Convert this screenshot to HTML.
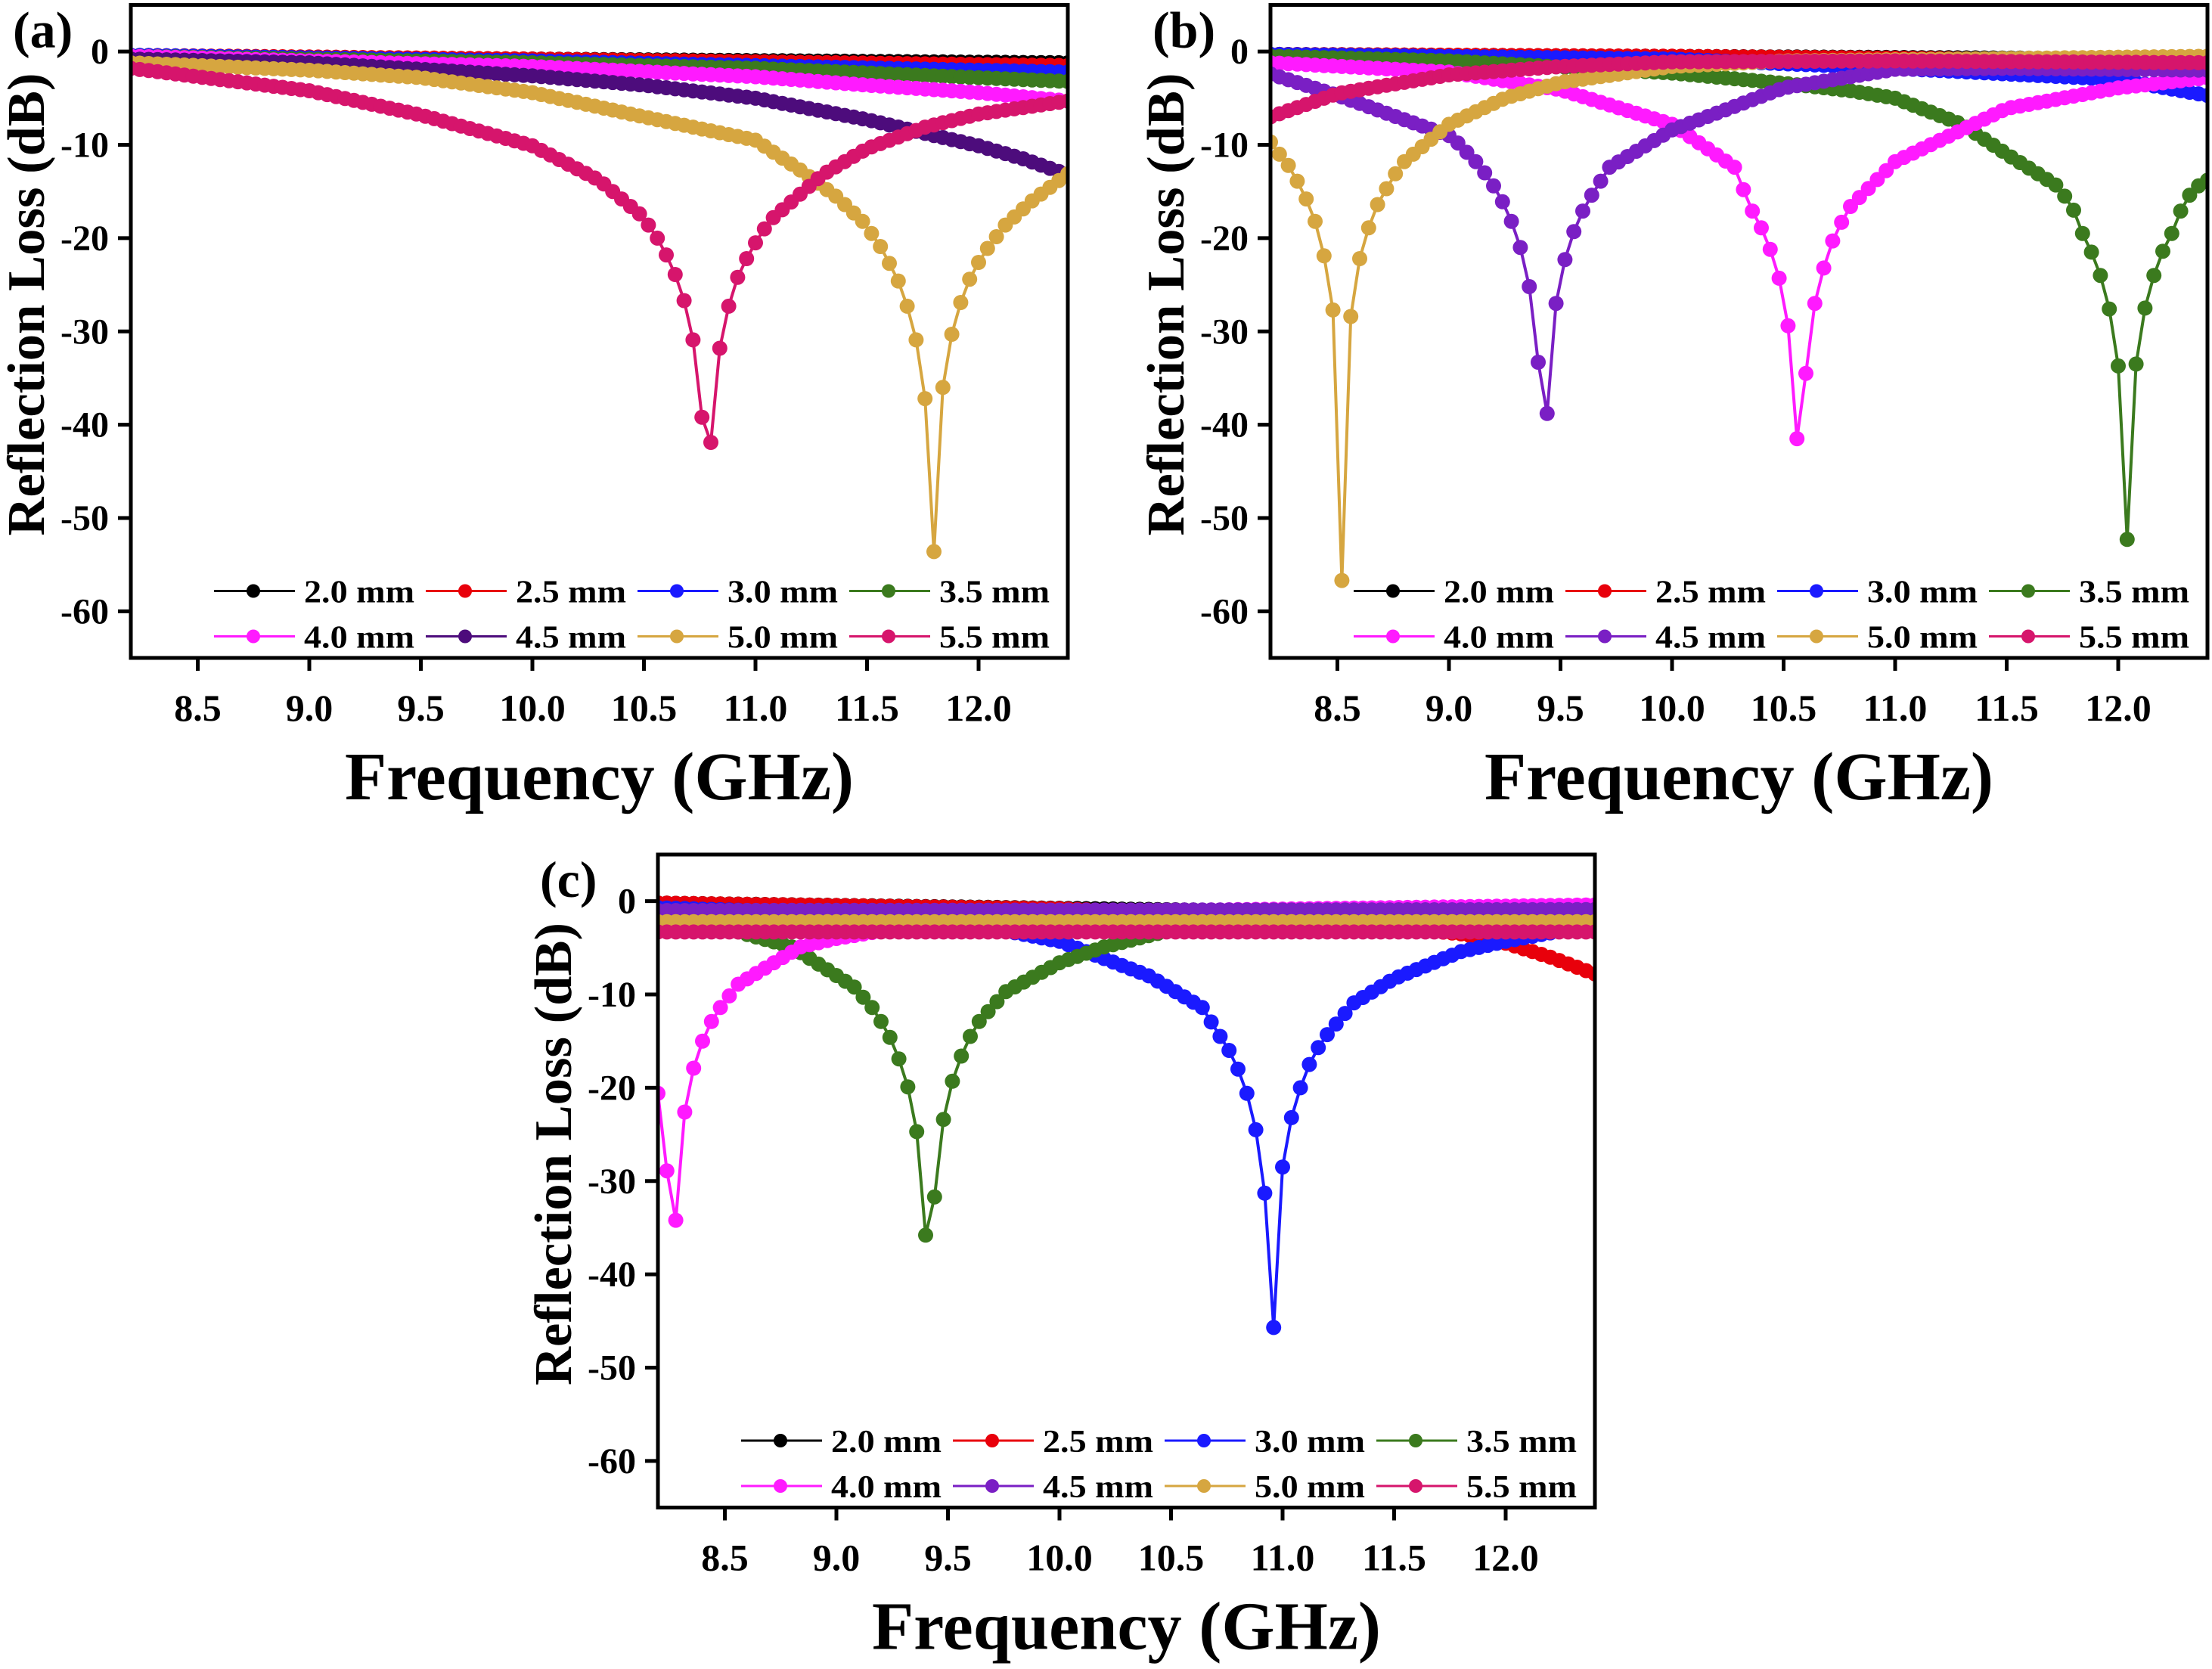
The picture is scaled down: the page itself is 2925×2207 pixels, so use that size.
<!DOCTYPE html>
<html><head><meta charset="utf-8">
<style>
html,body{margin:0;padding:0;background:#fff;}
svg{display:block;}
text{font-family:"Liberation Serif","Times New Roman",serif;font-weight:bold;fill:#000;}
</style></head>
<body>
<svg id="fig" width="2925" height="2207" viewBox="0 0 2925 2207" xmlns="http://www.w3.org/2000/svg">
<rect x="0" y="0" width="2925" height="2207" fill="#fff"/>
</svg>
<script>
// ---- shared chart data ----
const xTicks = [8.5, 9.0, 9.5, 10.0, 10.5, 11.0, 11.5, 12.0];
const xTickLabels = ["8.5", "9.0", "9.5", "10.0", "10.5", "11.0", "11.5", "12.0"];
const yTicks = [0, -10, -20, -30, -40, -50, -60];
const yTickLabels = ["0", "-10", "-20", "-30", "-40", "-50", "-60"];
const seriesNames = ["2.0 mm", "2.5 mm", "3.0 mm", "3.5 mm", "4.0 mm", "4.5 mm", "5.0 mm", "5.5 mm"];
const panelLabels = ["(a)", "(b)", "(c)"];

// ---- panel (a) ----
const aF20 = [8.2, 10, 12.4];            const aV20 = [-0.5, -0.8, -1.2];
const aF25 = [8.2, 10, 12.4];            const aV25 = [-0.4, -0.8, -1.5];
const aF30 = [8.2, 10, 12.4];            const aV30 = [-0.4, -1.0, -2.2];
const aF35 = [8.2, 10, 11, 12, 12.4];    const aV35 = [-0.5, -1.2, -1.8, -2.8, -3.2];
const aF40 = [8.2, 9, 10, 11, 11.5, 12, 12.4]; const aV40 = [-0.5, -1, -1.6, -2.7, -3.6, -4.4, -5.3];
const aF45 = [8.2, 9, 10, 10.5, 11, 11.5, 11.8, 12, 12.2, 12.4];
const aV45 = [-0.8, -1.2, -2.6, -3.6, -5, -7.3, -9, -10.1, -11.5, -13.2];
const aF50 = [8.2, 9, 9.5, 10, 10.5, 11, 11.2, 11.36, 11.48, 11.52, 11.56, 11.6, 11.64, 11.68, 11.72, 11.76, 11.8, 11.84, 11.88, 11.92, 11.96, 12.0, 12.04, 12.12, 12.24, 12.4];
const aV50 = [-1.2, -2, -2.8, -4.4, -7, -9.5, -12.7, -15.5, -18.2, -19.5, -20.9, -22.7, -24.6, -27.3, -30.9, -37.2, -53.6, -36, -30.3, -26.9, -24.4, -22.6, -21.1, -18.6, -16, -13.1];
const aF55 = [8.2, 9, 9.5, 10, 10.3, 10.48, 10.52, 10.56, 10.6, 10.64, 10.68, 10.72, 10.76, 10.8, 10.84, 10.88, 10.92, 10.96, 11.0, 11.04, 11.08, 11.3, 11.5, 11.76, 12, 12.4];
const aV55 = [-1.8, -4.2, -6.8, -10.1, -13.8, -17.4, -18.6, -20, -21.8, -23.9, -26.7, -30.9, -39.2, -41.9, -31.8, -27.3, -24.2, -22.2, -20.5, -19, -17.8, -13.2, -10.4, -8.1, -6.7, -5.3];

// ---- panel (b) ----
const bF20 = [8.2, 12.4];                const bV20 = [-0.3, -0.8];
const bF25 = [8.2, 10, 12.4];            const bV25 = [-0.3, -0.5, -1.0];
const bF30 = [8.2, 10, 11, 12, 12.4];    const bV30 = [-0.3, -0.8, -1.8, -3, -4.7];
const bF35 = [8.2, 9, 10, 10.5, 10.8, 11, 11.3, 11.5, 11.72, 11.76, 11.8, 11.84, 11.88, 11.92, 11.96, 12.0, 12.04, 12.08, 12.12, 12.16, 12.2, 12.24, 12.28, 12.32, 12.36, 12.4];
const bV35 = [-0.5, -1, -2.3, -3.4, -4.2, -5, -7.8, -11, -14.3, -15.5, -17, -19.5, -21.5, -24, -27.6, -33.7, -52.3, -33.5, -27.5, -24, -21.4, -19.5, -17.1, -15.4, -14.4, -13.8];
const bF40 = [8.2, 9, 9.5, 10, 10.28, 10.32, 10.36, 10.4, 10.44, 10.48, 10.52, 10.56, 10.6, 10.64, 10.68, 10.72, 10.76, 10.8, 11, 11.5, 12, 12.4];
const bV40 = [-1.2, -2.2, -4.1, -7.8, -12.4, -14.8, -17.1, -18.9, -21.2, -24.3, -29.4, -41.5, -34.5, -27, -23.2, -20.3, -18.3, -16.6, -11.8, -6.1, -3.9, -2.8];
const bF45 = [8.2, 8.5, 8.8, 9.0, 9.04, 9.12, 9.16, 9.2, 9.24, 9.28, 9.32, 9.36, 9.4, 9.44, 9.48, 9.52, 9.56, 9.6, 9.64, 9.72, 10, 10.5, 11, 11.5, 12.4];
const bV45 = [-2.4, -4.7, -7.3, -9, -9.8, -11.8, -13, -14.4, -16.1, -18.2, -21, -25.2, -33.3, -38.8, -27, -22.3, -19.3, -17.1, -15.4, -12.4, -8.4, -3.9, -1.9, -1.8, -2];
const bF50 = [8.2, 8.24, 8.28, 8.32, 8.36, 8.4, 8.44, 8.48, 8.52, 8.56, 8.6, 8.64, 8.68, 8.72, 8.76, 8.8, 9, 9.25, 9.5, 10, 10.5, 12.4];
const bV50 = [-9.7, -11, -12.2, -13.9, -15.8, -18.2, -21.9, -27.7, -56.7, -28.4, -22.2, -18.9, -16.4, -14.7, -13.1, -11.8, -7.8, -5, -3.3, -1.6, -1, -0.5];
const bF55 = [8.2, 8.5, 9, 9.5, 10, 11, 12.4];  const bV55 = [-7, -4.5, -2.5, -1.6, -1.1, -1, -1.2];

// ---- panel (c) ----
const cF20 = [8.2, 12.4];                const cV20 = [-0.2, -1.5];
const cF25 = [8.2, 10, 11, 11.5, 11.8, 12, 12.2, 12.4]; const cV25 = [-0.2, -0.8, -1.8, -2.8, -3.5, -4.5, -6, -7.8];
const cF30 = [8.2, 9, 9.5, 10, 10.4, 10.64, 10.72, 10.76, 10.8, 10.84, 10.88, 10.92, 10.96, 11, 11.04, 11.08, 11.12, 11.16, 11.2, 11.32, 11.5, 11.8, 12, 12.2, 12.4];
const cV30 = [-0.7, -1.3, -2, -4.3, -8, -11.4, -14.5, -16, -18, -20.6, -24.5, -31.3, -45.7, -28.5, -23.2, -20, -17.5, -15.7, -14.3, -10.9, -8.3, -5.4, -4.3, -3.4, -2.3];
const cF35 = [8.2, 8.5, 8.8, 9.08, 9.16, 9.2, 9.24, 9.28, 9.32, 9.36, 9.4, 9.44, 9.48, 9.52, 9.56, 9.6, 9.64, 9.76, 10, 10.2, 10.5, 11, 12, 12.4];
const cV35 = [-2, -2.9, -4.9, -9.2, -11.4, -12.9, -14.6, -16.9, -19.9, -24.7, -35.8, -31.7, -23.4, -19.3, -16.6, -14.5, -12.9, -9.7, -6.6, -4.9, -3.1, -2, -1.3, -1.2];
const cF40 = [8.2, 8.24, 8.28, 8.32, 8.36, 8.4, 8.44, 8.48, 8.56, 8.72, 8.84, 9, 9.2, 9.6, 10.5, 12.4];
const cV40 = [-20.6, -28.9, -34.2, -22.6, -17.9, -15, -12.9, -11.4, -8.9, -6.6, -4.9, -4, -3.2, -2, -1, -0.4];
const cF45 = [8.2, 12.4];                const cV45 = [-1, -0.9];
const cF50 = [8.2, 12.4];                const cV50 = [-2.2, -2.2];
const cF55 = [8.2, 12.4];                const cV55 = [-3.3, -3.3];

// ---- rendering ----
const NS = "http://www.w3.org/2000/svg";
const svg = document.getElementById("fig");
const X0 = 8.2, X1 = 12.4, Y0 = 5, Y1 = -65;
const PW = 1239, PH = 863.5;
const colorsBase = ["#000000", "#e8000b", "#1a1aff", "#3b7a1e", "#ff1aff", "#7a1fc4", "#d6a640", "#d6156c"];

function mk(tag, attrs, parent) {
  const e = document.createElementNS(NS, tag);
  for (const k in attrs) e.setAttribute(k, attrs[k]);
  parent.appendChild(e);
  return e;
}
function interp(fs, vs, f) {
  if (f <= fs[0]) return vs[0];
  for (let i = 1; i < fs.length; i++) {
    if (f <= fs[i] + 1e-9) {
      const t = (f - fs[i - 1]) / (fs[i] - fs[i - 1]);
      return vs[i - 1] + t * (vs[i] - vs[i - 1]);
    }
  }
  return vs[vs.length - 1];
}

function drawPanel(idx, L, T, series, purpleColor) {
  const colors = colorsBase.slice();
  colors[5] = purpleColor;
  const g = mk("g", {}, svg);
  
  
  const xs = f => L + (f - X0) / (X1 - X0) * PW;
  const ys = v => T + (Y0 - v) / (Y0 - Y1) * PH;
  const clipId = "clip" + idx;
  const cp = mk("clipPath", { id: clipId }, g);
  mk("rect", { x: L, y: T, width: PW, height: PH }, cp);

  const plot = mk("g", { "clip-path": "url(#" + clipId + ")" }, g);
  
  
  series.forEach((s, si) => {
    const sg = mk("g", {}, plot);
    
    
    const fs = s[0], vs = s[1];
    const pts = [];
    for (let k = 0; k <= 105; k++) {
      const f = X0 + k * 0.04;
      pts.push([xs(f), ys(interp(fs, vs, f))]);
    }
    const line = mk("polyline", { points: pts.map(p => p[0].toFixed(1) + "," + p[1].toFixed(1)).join(" "), fill: "none", stroke: colors[si], "stroke-width": 4 }, sg);
    
    
    pts.forEach(p => {
      const m = mk("circle", { cx: p[0].toFixed(1), cy: p[1].toFixed(1), r: 10, fill: colors[si] }, sg);
      
      
    });
  });

  const fr = mk("rect", { x: L, y: T, width: PW, height: PH, fill: "none", stroke: "#000", "stroke-width": 5 }, g);
  
  

  xTicks.forEach((t, i) => {
    const x = xs(t);
    const tk = mk("line", { x1: x, y1: T + PH, x2: x, y2: T + PH + 17, stroke: "#000", "stroke-width": 5 }, g);
    
    
    const tl = mk("text", { x: x, y: T + PH + 83, "font-size": 50, "text-anchor": "middle" }, g);
    tl.textContent = xTickLabels[i];
    
    
  });
  yTicks.forEach((t, i) => {
    const y = ys(t);
    const tk = mk("line", { x1: L - 17, y1: y, x2: L, y2: y, stroke: "#000", "stroke-width": 5 }, g);
    
    
    const tl = mk("text", { x: L - 29, y: y + 16, "font-size": 48, "text-anchor": "end" }, g);
    tl.textContent = yTickLabels[i];
    
    
  });
  const xt = mk("text", { x: L + PW / 2, y: T + PH + 187, "font-size": 90, "text-anchor": "middle", textLength: 673, lengthAdjust: "spacingAndGlyphs" }, g);
  xt.textContent = "Frequency (GHz)";
  
  
  const cy = T + 396;
  const yt = mk("text", { x: 0, y: 0, "font-size": 70, "text-anchor": "middle", textLength: 612, lengthAdjust: "spacingAndGlyphs", transform: "translate(" + (L - 115) + "," + cy + ") rotate(-90)" }, g);
  yt.textContent = "Reflection Loss (dB)";
  
  
  const pl = mk("text", { x: L - 156, y: T + 56, "font-size": 68 }, g);
  pl.textContent = panelLabels[idx];
  
  

  const lg = mk("g", {}, g);
  
  
  seriesNames.forEach((n, si) => {
    const col = si % 4, row = Math.floor(si / 4);
    const x = L + 110 + col * 280;
    const y = T + 775 + row * 60;
    const eg = mk("g", {}, lg);
    
    
    mk("line", { x1: x, y1: y, x2: x + 107, y2: y, stroke: colors[si], "stroke-width": 3 }, eg);
    mk("circle", { cx: x + 52, cy: y, r: 9, fill: colors[si] }, eg);
    const t = mk("text", { x: x + 119, y: y + 15, "font-size": 42, textLength: 146, lengthAdjust: "spacingAndGlyphs" }, eg);
    t.textContent = n;
  });
}

drawPanel(0, 173, 6.5, [[aF20, aV20], [aF25, aV25], [aF30, aV30], [aF35, aV35], [aF40, aV40], [aF45, aV45], [aF50, aV50], [aF55, aV55]], "#4d0c7c");
drawPanel(1, 1680, 6.5, [[bF20, bV20], [bF25, bV25], [bF30, bV30], [bF35, bV35], [bF40, bV40], [bF45, bV45], [bF50, bV50], [bF55, bV55]], "#7a1fc4");
drawPanel(2, 870, 1130, [[cF20, cV20], [cF25, cV25], [cF30, cV30], [cF35, cV35], [cF40, cV40], [cF45, cV45], [cF50, cV50], [cF55, cV55]], "#7a1fc4");
</script>
</body></html>
